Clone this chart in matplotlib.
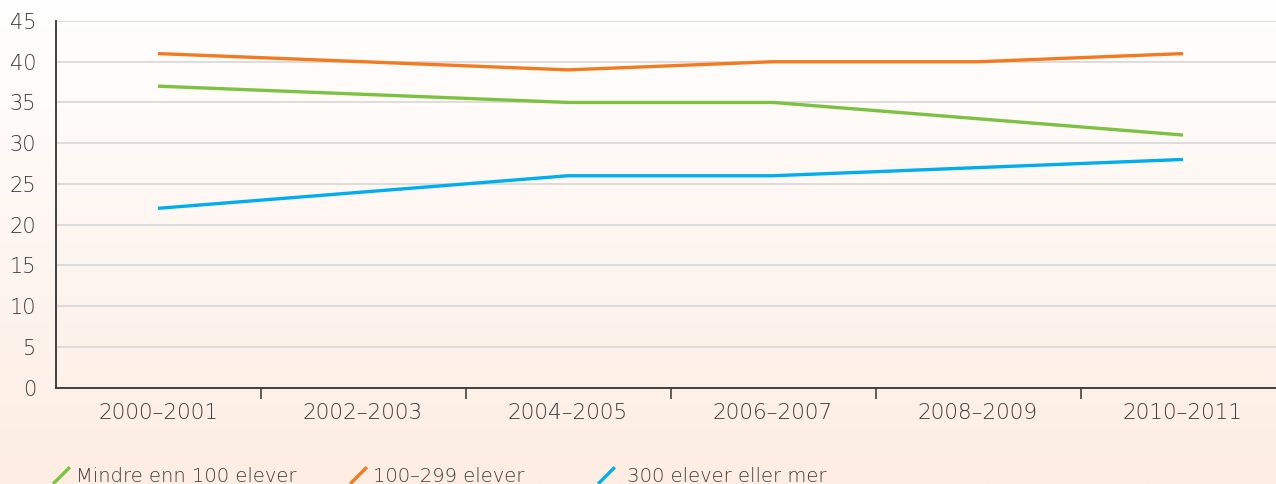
import matplotlib
matplotlib.use("Agg")
import matplotlib.pyplot as plt
import numpy as np
from matplotlib.lines import Line2D
from matplotlib.path import Path

periods = ["2000–2001", "2002–2003", "2004–2005", "2006–2007", "2008–2009", "2010–2011"]
small = [37, 36, 35, 35, 33, 31]      # Mindre enn 100 elever
medium = [41, 40, 39, 40, 40, 41]     # 100–299 elever
large = [22, 24, 26, 26, 27, 28]      # 300 elever eller mer
series_names = ["Mindre enn 100 elever", "100–299 elever", " 300 elever eller mer"]
colors = ["#7dc142", "#f47a20", "#00aeef"]
yticks = list(range(0, 50, 5))

plt.rcParams['font.family'] = ['DejaVu Sans']
plt.rcParams['font.weight'] = 'light'
text_col = "#3c3c3c"

fig = plt.figure(figsize=(12.76, 4.84), dpi=100)

# soft white-to-peach background
bg = fig.add_axes([0, 0, 1, 1], zorder=-10)
grad = np.linspace(1, 0, 256).reshape(-1, 1)
top = np.array([1.0, 1.0, 1.0])
bottom = np.array([0xfd, 0xed, 0xe2]) / 255
img = top * grad[..., None] + bottom * (1 - grad[..., None])
bg.imshow(img, aspect='auto', extent=[0, 1, 0, 1])
bg.axis('off')

left = 55.5 / 1276
right_px = 55.5 + 205 * 6
ax = fig.add_axes([left, (484 - 387.5) / 484, (right_px - 55.5) / 1276, (387.5 - 21) / 484])
ax.patch.set_alpha(0)

x = np.arange(len(periods))
for vals, c in zip([small, medium, large], colors):
    ax.plot(x, vals, color=c, lw=2.4, solid_capstyle='butt', zorder=3)

ax.set_xlim(-0.5, len(periods) - 0.5)
ax.set_ylim(0, 45)
ax.set_yticks(yticks)
ax.grid(axis='y', color='#dadada', lw=1.3, zorder=0)
ax.set_axisbelow(True)

ax.set_xticks(x)
ax.set_xticklabels(periods)
ax.set_xticks(x[:-1] + 0.5, minor=True)
ax.tick_params(axis='x', which='major', length=0, pad=11, labelsize=15.5, labelcolor=text_col)
ax.tick_params(axis='x', which='minor', length=8, width=1.1, color='#333333', direction='out')
ax.tick_params(axis='y', length=0, pad=14, labelsize=15, labelcolor=text_col)
for lab in ax.get_yticklabels():
    lab.set_horizontalalignment('right')

for s in ['top', 'right']:
    ax.spines[s].set_visible(False)
for s in ['left', 'bottom']:
    ax.spines[s].set_color('#333333')
    ax.spines[s].set_linewidth(1.3)

# one legend entry per series, each placed on its own along the bottom
slash = Path([(-1, -1), (1, 1)], [Path.MOVETO, Path.LINETO])
legend_x = [34.5, 331.5, 579.5]
for c, name, lx in zip(colors, series_names, legend_x):
    h = Line2D([], [], color=c, marker=slash, markersize=12, markeredgewidth=2.4,
               linestyle='none')
    fig.legend([h], [name], loc='lower left', bbox_to_anchor=(lx / 1276, -0.04),
               frameon=False, fontsize=14.0, labelcolor=text_col,
               handlelength=0.9, handletextpad=0.35)

fig.savefig("out.png", dpi=100)
